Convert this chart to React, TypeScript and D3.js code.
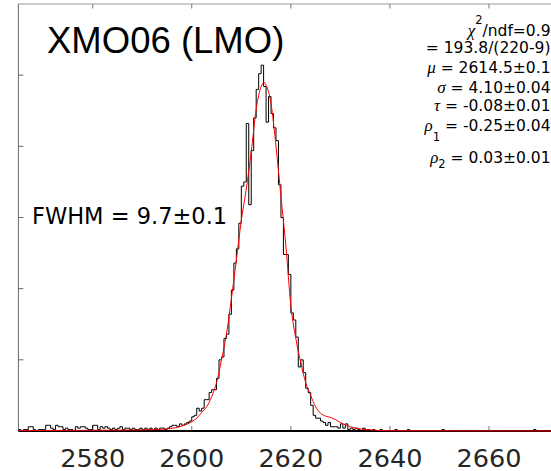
import * as d3 from 'd3';

// histogram: 220 bins of 0.5 from 2565
const binStart = 2565;
const binWidth = 0.5;
const counts = [
  1, 0, 1, 1, 3, 3, 1, 0, 1, 1,
  1, 4, 4, 2, 1, 4, 3, 3, 1, 2,
  1, 1, 0, 3, 2, 3, 3, 2, 1, 1,
  4, 4, 1, 3, 2, 3, 2, 1, 2, 1,
  2, 3, 1, 2, 2, 1, 2, 1, 1, 2,
  1, 2, 1, 2, 0, 2, 1, 2, 2, 1,
  2, 3, 4, 4, 3, 5, 4, 5, 6, 7,
  10, 11, 16, 14, 16, 22, 22, 27, 29, 29,
  37, 50, 52, 65, 68, 82, 99, 118, 128, 146,
  172, 175, 216, 159, 197, 220, 240, 251, 257, 242,
  217, 235, 223, 213, 204, 173, 150, 124, 124, 110,
  83, 78, 66, 45, 50, 41, 30, 27, 18, 11,
  9, 9, 7, 6, 4, 6, 3, 3, 3, 2,
  5, 2, 5, 1, 2, 1, 2, 1, 0, 2,
  1, 1, 0, 1, 0, 0, 1, 0, 0, 0,
  0, 0, 1, 0, 0, 0, 0, 1, 0, 0,
  0, 0, 0, 0, 0, 0, 0, 0, 0, 0,
  0, 1, 0, 0, 0, 0, 0, 0, 0, 0,
  0, 0, 0, 0, 0, 0, 0, 0, 0, 0,
  0, 0, 0, 0, 0, 0, 0, 0, 0, 0,
  0, 0, 0, 0, 0, 0, 0, 0, 1, 0,
  0, 0, 0, 0, 0, 0, 0, 0, 0, 0,
];

// fitted curve
const fitX = [2565, 2580, 2590, 2595, 2598, 2600, 2601, 2602, 2603, 2604, 2605, 2606, 2607, 2608, 2609, 2610, 2611, 2612, 2613, 2614, 2614.6, 2615, 2616, 2617, 2618, 2619, 2620, 2621, 2622, 2623, 2624, 2625, 2626, 2627, 2628, 2629, 2630, 2632, 2635, 2640, 2675];
const fitY = [0.3, 0.5, 0.8, 1.5, 3.5, 6.5, 9, 13, 17, 24, 34, 50, 68, 93, 120, 148, 170, 196, 226, 242, 245, 243, 230, 200, 165, 130, 88, 65, 48, 34, 25, 17, 12.5, 10.5, 9.5, 8, 6, 3, 1, 0.2, 0];

const xTicks = [2580, 2600, 2620, 2640, 2660];
const yTicks = [50, 100, 150, 200, 250];

const title = 'XMO06 (LMO)';
const fwhmLabel = 'FWHM = 9.7\u00b10.1';

export default function App() {
  const width = 551, height = 471;
  const x = d3.scaleLinear([2565, 2675], [18.4, 563.3]);
  const y = d3.scaleLinear([0, 300], [431, 4]);

  const steps: [number, number][] = counts.map((c, i) => [binStart + i * binWidth, c]);
  steps.push([binStart + counts.length * binWidth, counts[counts.length - 1]]);
  const stair = d3.line<[number, number]>()
    .x(d => x(d[0]))
    .y(d => y(d[1]))
    .curve(d3.curveStepAfter);

  const fit = d3.line<number>()
    .x((d, i) => x(fitX[i]))
    .y(d => y(d))
    .curve(d3.curveMonotoneX);

  const left = x(2565);
  const sans = 'DejaVu Sans, sans-serif';
  const greek = { fontFamily: 'Liberation Serif, serif', fontStyle: 'italic' as const, fontSize: 17 };

  return (
    <svg width={width} height={height} style={{position: 'absolute', left: 0, top: 0, background: '#fff'}}>
      <rect width={width} height={height} fill="#fff"/>
      {/* frame */}
      <line x1={left} x2={width} y1={y(300)} y2={y(300)} stroke="#999" strokeWidth={1}/>
      <line x1={left} x2={left} y1={y(300)} y2={y(0)} stroke="#666" strokeWidth={1}/>
      {xTicks.map(t => (
        <g key={t}>
          <line x1={x(t)} x2={x(t)} y1={y(300)} y2={y(300) + 4.5} stroke="#777"/>
          <line x1={x(t)} x2={x(t)} y1={y(0)} y2={y(0) - 5} stroke="#777"/>
          <text x={x(t)} y={466.5} textAnchor="middle" fontFamily={sans} fontSize={25.5} fill="#262626">{t}</text>
        </g>
      ))}
      {yTicks.map(t => (
        <line key={t} x1={left} x2={left + 5} y1={y(t)} y2={y(t)} stroke="#666"/>
      ))}

      <path d={stair(steps) ?? ''} fill="none" stroke="#000" strokeWidth={1}/>
      <line x1={left} x2={width} y1={y(0)} y2={y(0)} stroke="#000" strokeWidth={2}/>
      <path d={fit(fitY) ?? ''} fill="none" stroke="#ff0000" strokeWidth={1}/>

      <text x={47} y={53.3} fontFamily="Liberation Sans, Arial, sans-serif" fontSize={36.5} fill="#000">{title}</text>
      <text x={32} y={223.5} fontFamily={sans} fontSize={22.5} fill="#000">{fwhmLabel}</text>

      <g fontFamily={sans} fontSize={15.5} fill="#000" textAnchor="end">
        <text x={550.5} y={36}>
          <tspan {...greek}>χ</tspan>
          <tspan fontSize={11.5} dy={-12}>2</tspan>
          <tspan dy={12}>/ndf=0.9</tspan>
        </text>
        <text x={550.5} y={53.3}>= 193.8/(220-9)</text>
        <text x={550.5} y={73.3}><tspan {...greek}>μ</tspan> = 2614.5±0.1</text>
        <text x={550.5} y={92.5}><tspan {...greek}>σ</tspan> = 4.10±0.04</text>
        <text x={550.5} y={111}><tspan {...greek}>τ</tspan> = -0.08±0.01</text>
        <text x={550.5} y={130.5}>
          <tspan {...greek}>ρ</tspan>
          <tspan fontSize={11.5} dy={10}>1</tspan>
          <tspan dy={-10}> = -0.25±0.04</tspan>
        </text>
        <text x={550.5} y={163}>
          <tspan {...greek}>ρ</tspan>
          <tspan fontSize={11.5} dy={5}>2</tspan>
          <tspan dy={-5}> = 0.03±0.01</tspan>
        </text>
      </g>
    </svg>
  );
}
